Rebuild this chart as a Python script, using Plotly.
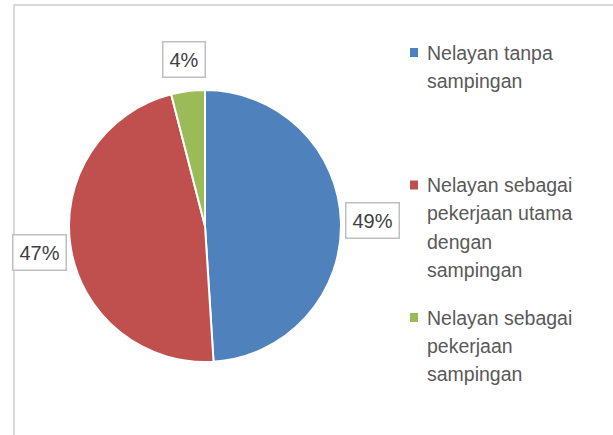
import math
import plotly.graph_objects as go

labels = ["Nelayan tanpa<br>sampingan",
          "Nelayan sebagai<br>pekerjaan utama<br>dengan<br>sampingan",
          "Nelayan sebagai<br>pekerjaan<br>sampingan"]
values = [49, 47, 4]
colors = ["#4F81BD", "#C0504D", "#9BBB59"]

W, H = 613, 435
cx, cy, r = 205, 226, 136

fig = go.Figure()
fig.add_trace(go.Pie(
    labels=labels, values=values, sort=False, direction="clockwise", rotation=0,
    marker=dict(colors=colors, line=dict(color="white", width=2)),
    textinfo="none", hoverinfo="label+percent", showlegend=False,
    domain=dict(x=[(cx - r) / W, (cx + r) / W], y=[(H - cy - r) / H, (H - cy + r) / H]),
))

annotations = []
total = sum(values)
cum = 0
for v in values:
    mid = (cum + v / 2) / total * 2 * math.pi
    cum += v
    rl = 168
    px = cx + rl * math.sin(mid)
    py = cy - rl * math.cos(mid)
    annotations.append(dict(
        x=px / W, y=1 - py / H, xref="paper", yref="paper", showarrow=False,
        text=f"{round(v / total * 100)}%", font=dict(family="Liberation Sans", size=20, color="#404040"),
        bgcolor="white", bordercolor="#BFBFBF", borderwidth=1.5, borderpad=6,
        xanchor="center", yanchor="middle",
    ))

shapes = [dict(type="rect", xref="paper", yref="paper", x0=14 / W, x1=1.2, y0=-0.2, y1=1 - 5 / H,
               line=dict(color="#D9D9D9", width=2), fillcolor="rgba(0,0,0,0)", layer="below")]

for i, (lab, col) in enumerate(zip(labels, colors)):
    y0 = 52.5 + i * 132.5
    shapes.append(dict(type="rect", xref="paper", yref="paper",
                       x0=410 / W, x1=418 / W, y0=1 - (y0 + 4.5) / H, y1=1 - (y0 - 4.5) / H,
                       fillcolor=col, line=dict(width=0)))
    for j, line in enumerate(lab.split("<br>")):
        annotations.append(dict(
            x=425 / W, y=1 - (y0 + j * 28.3) / H, xref="paper", yref="paper", showarrow=False,
            text=line, xanchor="left", yanchor="middle",
            font=dict(family="Liberation Sans", size=19.5, color="#595959"),
        ))

fig.update_layout(
    width=W, height=H, margin=dict(l=0, r=0, t=0, b=0),
    paper_bgcolor="white", plot_bgcolor="white",
    annotations=annotations, shapes=shapes, showlegend=False,
)
fig.write_html("out.html")
